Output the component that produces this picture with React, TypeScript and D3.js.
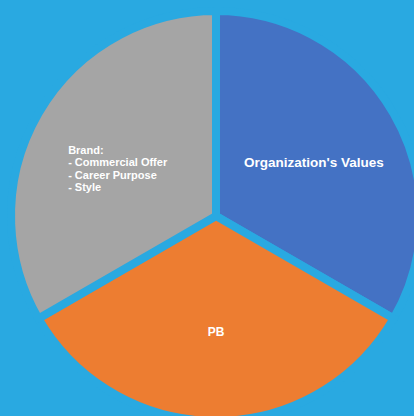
import React from "react";
import * as d3 from "d3";

const categories = ["Organization's Values", "PB", "Brand"];
const values = [1, 1, 1];
const colors = ["#4472c4", "#ed7d31", "#a5a5a5"];
const labelLines: string[][] = [
  ["Organization's Values"],
  ["PB"],
  ["Brand:", "- Commercial Offer", "- Career Purpose", "- Style"],
];

const W = 414;
const H = 416;
const BG = "#29a9e1";

export default function App() {
  const cx = 216;
  const cy = 216;
  const r = 205;
  const pie = d3.pie<number>().sort(null).value((d) => d);
  const arcs = pie(values);
  const arc = d3.arc<d3.PieArcDatum<number>>().innerRadius(0).outerRadius(r);
  const labelArc = d3.arc<d3.PieArcDatum<number>>().innerRadius(113 * 2).outerRadius(0);
  return (
    <svg
      width={W}
      height={H}
      style={{ position: "fixed", left: 0, top: 0 }}
      fontFamily="Liberation Sans, Arial, sans-serif"
    >
      <rect width={W} height={H} fill={BG} />
      <g transform={`translate(${cx},${cy})`}>
        {arcs.map((a, i) => (
          <path key={categories[i]} d={arc(a) || ""} fill={colors[i]} stroke={BG} strokeWidth={8} strokeLinejoin="miter" />
        ))}
        {arcs.map((a, i) => {
          const [x, y] = labelArc.centroid(a);
          const lines = labelLines[i];
          if (lines.length === 1) {
            return (
              <text key={i} x={x} y={y + (i === 0 ? 3 : 3)} textAnchor="middle" dominantBaseline="central" fill="#fff" fontWeight="bold" fontSize={i === 0 ? 13.5 : 12}>
                {lines[0]}
              </text>
            );
          }
          const lh = 12.4;
          const y0 = y - ((lines.length - 1) * lh) / 2 + 9;
          return (
            <text key={i} fill="#fff" fontWeight="bold" fontSize={11}>
              {lines.map((l, j) => (
                <tspan key={j} x={x - 50} y={y0 + j * lh} dominantBaseline="central">
                  {l}
                </tspan>
              ))}
            </text>
          );
        })}
      </g>
    </svg>
  );
}
